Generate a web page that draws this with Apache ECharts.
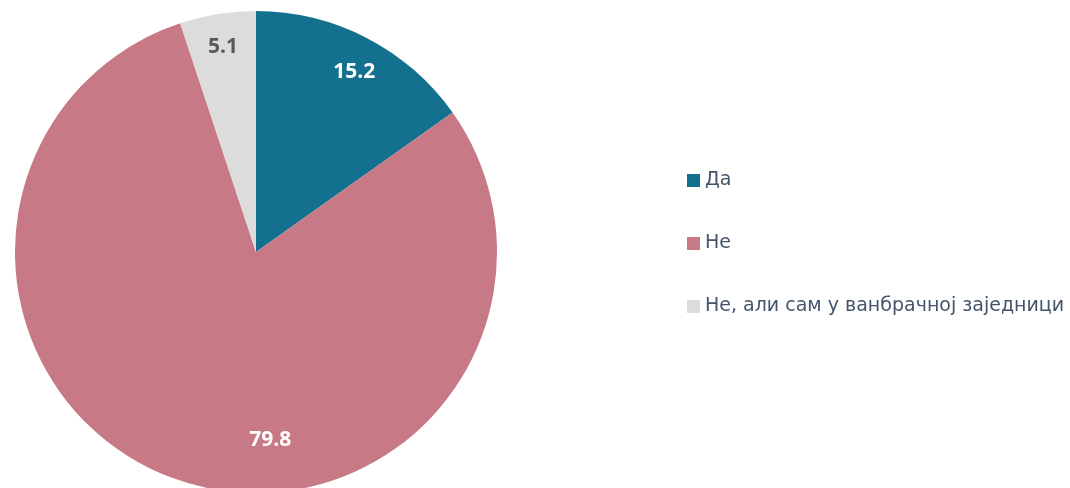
<!DOCTYPE html>
<html>
<head>
<meta charset="utf-8">
<script src="https://cdn.jsdelivr.net/npm/echarts@6/dist/echarts.min.js"></script>
<style>
    html, body { margin: 0; padding: 0; background: #fff; }
    #chart { width: 1070px; height: 488px; }
</style>
</head>
<body>
<div id="chart"></div>
<script>
// data
var categories = ['Да', 'Не', 'Не, али сам у ванбрачној заједници'];
var values = [15.2, 79.8, 5.1];
var colors = ['#13718f', '#c77985', '#dcdcdc'];
var labelColors = ['#ffffff', '#ffffff', '#595959'];

var pieData = categories.map(function (name, i) {
    return { name: name, value: values[i], itemStyle: { color: colors[i] } };
});
// overlay ring only for label positions
var labelData = categories.map(function (name, i) {
    return {
        name: name,
        value: values[i],
        label: { color: labelColors[i] }
    };
});

var chart = echarts.init(document.getElementById('chart'));
var option = {
    animation: false,
    legend: {
        orient: 'vertical',
        left: 682,
        top: 166,
        itemWidth: 13,
        itemHeight: 13,
        itemGap: 44,
        icon: 'rect',
        data: categories,
        textStyle: {
            fontFamily: 'DejaVu Sans',
            fontSize: 19,
            color: '#44546a'
        }
    },
    series: [
        {
            name: 'main',
            type: 'pie',
            center: [256, 252],
            radius: [0, 241],
            startAngle: 90,
            clockwise: true,
            label: { show: false },
            labelLine: { show: false },
            emphasis: { disabled: true },
            data: pieData
        },
        {
            name: 'labels',
            type: 'pie',
            silent: true,
            center: [256, 252],
            radius: [168, 241],
            startAngle: 90,
            clockwise: true,
            itemStyle: { color: 'rgba(0,0,0,0)' },
            legendHoverLink: false,
            label: {
                show: true,
                position: 'inside',
                formatter: function (p) { return p.value.toFixed(1); },
                fontFamily: 'Open Sans',
                fontWeight: 'bold',
                fontSize: 21
            },
            labelLine: { show: false },
            labelLayout: function (p) {
                if (p.dataIndex === 0) {
                    return { dx: 3, dy: 4 };
                }
                if (p.dataIndex === 1) {
                    return { dx: 79, dy: -9 };
                }
                return {};
            },
            data: labelData
        }
    ]
};
chart.setOption(option);
</script>
</body>
</html>
